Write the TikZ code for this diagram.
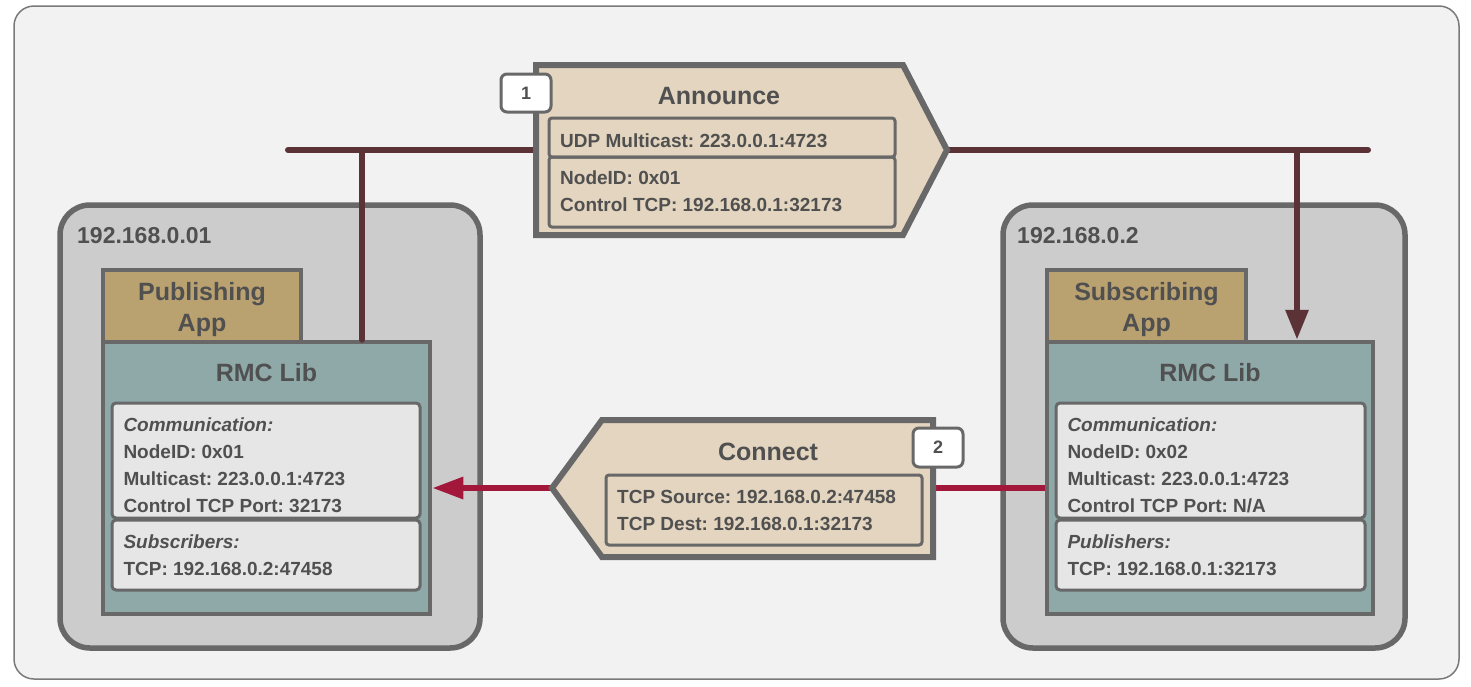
\documentclass[tikz,border=0pt]{standalone}
\usepackage{fontspec}
\setmainfont{Liberation Sans}
\usetikzlibrary{arrows.meta}
\frenchspacing
\definecolor{bgc}{HTML}{F2F2F2}
\definecolor{framec}{HTML}{7A7A7A}
\definecolor{strk}{HTML}{686868}
\definecolor{hostc}{HTML}{CCCCCC}
\definecolor{appc}{HTML}{BAA170}
\definecolor{libc}{HTML}{8FA9A9}
\definecolor{infoc}{HTML}{E6E6E6}
\definecolor{msgc}{HTML}{E3D5BF}
\definecolor{txt}{HTML}{505050}
\definecolor{netc}{HTML}{5B3337}
\definecolor{tcpc}{HTML}{A3173A}
\tikzset{
 hostbox/.style={draw=strk, line width=5.5pt, fill=hostc, rounded corners=30pt, inner sep=0pt},
 appbox/.style={draw=strk, line width=4.5pt, fill=appc, inner sep=0pt},
 libbox/.style={draw=strk, line width=4.5pt, fill=libc, inner sep=0pt},
 infobox/.style={draw=strk, line width=3pt, fill=infoc, rounded corners=4pt, inner sep=0pt},
 msgshape/.style={draw=strk, line width=6pt, fill=msgc},
 msginner/.style={draw=strk, line width=3pt, rounded corners=3pt, inner sep=0pt},
 badge/.style={draw=strk, line width=3pt, fill=white, rounded corners=6pt, inner sep=0pt, minimum width=50pt, minimum height=38pt, text=txt, font=\fontsize{18}{20}\selectfont\bfseries},
 body/.style={text=txt, font=\fontsize{19}{23}\selectfont\bfseries, inner sep=0pt, anchor=base west},
 ital/.style={body, font=\fontsize{19}{23}\selectfont\bfseries\itshape},
 ttl/.style={text=txt, font=\fontsize{25}{30}\selectfont\bfseries, inner sep=0pt, anchor=base},
 iptxt/.style={text=txt, font=\fontsize{23}{27}\selectfont\bfseries, inner sep=0pt, anchor=base west},
 netline/.style={draw=netc, line width=6pt, line cap=round},
 tcpline/.style={draw=tcpc, line width=6pt},
}
\begin{document}
\begin{tikzpicture}[x=1pt,y=-1pt]
\useasboundingbox (0,0) rectangle (1471,686);
% background frame
\draw[draw=framec, line width=1.5pt, fill=bgc, rounded corners=20pt] (14,6) rectangle (1459,679);

% multicast bus
\coordinate (netL) at (288,150);
\coordinate (netR) at (1368,150);
\draw[netline] (netL) -- (netR);

% announce message
\draw[msgshape] (536,65) -- (903,65) -- (947,150) -- (903,235) -- (536,235) -- cycle;
\node[msginner, minimum width=346pt, minimum height=39pt] (annA) at (722,137.5) {};
\node[msginner, minimum width=346pt, minimum height=70pt] (annB) at (722,192) {};
\node[ttl] (annT) at (719,104.3) {Announce};
\node[body] (a1) at (560,147.3) {UDP Multicast: 223.0.0.1:4723};
\node[body] (a2) at (560,184) {NodeID: 0x01};
\node[body] (a3) at (560,211) {Control TCP: 192.168.0.1:32173};

% hosts
\node[hostbox, minimum width=420pt, minimum height=443pt] (hostL) at (270,426.5) {};
\node[hostbox, minimum width=402pt, minimum height=443pt] (hostR) at (1204,426.5) {};
\node[iptxt] (ipL) at (77,243.3) {192.168.0.01};
\node[iptxt] (ipR) at (1017,243.3) {192.168.0.2};

% apps
\node[appbox, minimum width=198pt, minimum height=72pt] (appL) at (202,306) {};
\node[appbox, minimum width=199pt, minimum height=72pt] (appR) at (1146.5,306) {};
\node[ttl] (appL1) at (202,300) {Publishing};
\node[ttl] (appL2) at (202,331.7) {App};
\node[ttl] (appR1) at (1146.5,300) {Subscribing};
\node[ttl] (appR2) at (1146.5,331.7) {App};

% libs
\node[libbox, minimum width=327pt, minimum height=272pt] (libL) at (266.5,478) {};
\node[libbox, minimum width=326pt, minimum height=272pt] (libR) at (1210,478) {};
\node[ttl] (libLT) at (266.5,381.7) {RMC Lib};
\node[ttl] (libRT) at (1210,381.7) {RMC Lib};

% info boxes left
\node[infobox, minimum width=308pt, minimum height=115pt] (comL) at (266,460.5) {};
\node[infobox, minimum width=308pt, minimum height=70pt] (subL) at (266,555) {};
\node[ital] (l1) at (123.3,431.7) {Communication:};
\node[body] (l2) at (123.3,458.3) {NodeID: 0x01};
\node[body] (l3) at (123.3,485.7) {Multicast: 223.0.0.1:4723};
\node[body] (l4) at (123.3,512.3) {Control TCP Port: 32173};
\node[ital] (l5) at (123.3,548.3) {Subscribers:};
\node[body] (l6) at (123.3,575) {TCP: 192.168.0.2:47458};

% info boxes right
\node[infobox, minimum width=309pt, minimum height=115pt] (comR) at (1210.5,460.5) {};
\node[infobox, minimum width=309pt, minimum height=70pt] (pubR) at (1210.5,555) {};
\node[ital] (r1) at (1067.3,431.7) {Communication:};
\node[body] (r2) at (1067.3,458.3) {NodeID: 0x02};
\node[body] (r3) at (1067.3,485.7) {Multicast: 223.0.0.1:4723};
\node[body] (r4) at (1067.3,512.3) {Control TCP Port: N/A};
\node[ital] (r5) at (1067.3,548.3) {Publishers:};
\node[body] (r6) at (1067.3,575) {TCP: 192.168.0.1:32173};

% bus taps
\coordinate (tapL) at (362,150);
\coordinate (tapR) at (1297,150);
\draw[netline] (tapL) -- (tapL |- libL.north);
\draw[netline, -{Triangle[length=30pt,width=22pt]}] (tapR) -- (tapR |- libR.north);

% TCP connect
\coordinate (cTip) at (552,488);
\coordinate (cE) at (933,488);
\draw[tcpline, -{Triangle[length=31pt,width=21pt]}] (cTip) -- (cTip -| libL.east);
\draw[tcpline] (cTip -| libR.west) -- (cE);
\draw[msgshape] (cTip) -- (602,420) -- (933,420) -- (933,557) -- (602,557) -- cycle;
\node[msginner, minimum width=316pt, minimum height=70pt] (conA) at (764,510) {};
\node[ttl] (conT) at (768,460.7) {Connect};
\node[body] (c1) at (617,503.3) {TCP Source: 192.168.0.2:47458};
\node[body] (c2) at (617,530) {TCP Dest: 192.168.0.1:32173};

% badges
\node[badge] (b1) at (526,93) {1};
\node[badge, minimum height=39pt] (b2) at (938,447.5) {2};
\end{tikzpicture}
\end{document}
